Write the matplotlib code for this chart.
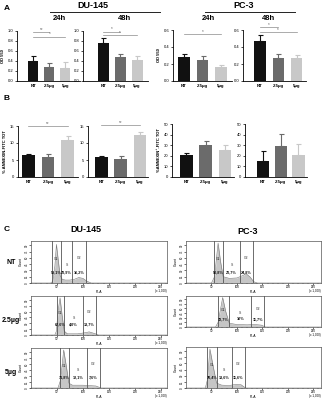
import numpy as np
import matplotlib
matplotlib.use("Agg")
import matplotlib.pyplot as plt

plt.rcParams['font.family'] = ['Liberation Sans', 'DejaVu Sans']

# ---------------- data ----------------
groups = ["NT", "2.5µg", "5µg"]
bar_colors = ["#111111", "#6b6b6b", "#c8c8c8"]

od_du145_24h = [0.41, 0.29, 0.26]
od_du145_24h_err = [0.09, 0.07, 0.12]
od_du145_48h = [0.76, 0.49, 0.43]
od_du145_48h_err = [0.10, 0.06, 0.08]
od_pc3_24h = [0.28, 0.245, 0.165]
od_pc3_24h_err = [0.04, 0.045, 0.025]
od_pc3_48h = [0.475, 0.275, 0.265]
od_pc3_48h_err = [0.07, 0.045, 0.04]

ann_du145 = [6.5, 6.0, 10.8]
ann_du145_err = [0.4, 0.8, 1.3]
ann_du145_b = [5.8, 5.4, 12.5]
ann_du145_b_err = [0.3, 0.9, 0.8]
ann_pc3 = [20.5, 30.5, 25.5]
ann_pc3_err = [1.8, 3.5, 4.8]
ann_pc3_b = [15.5, 29.5, 20.5]
ann_pc3_b_err = [9.5, 11.5, 11.0]

od_ticks = [0.0, 0.2, 0.4, 0.6, 0.8, 1.0]
od_ticks_pc3 = [0.0, 0.2, 0.4, 0.6]
ann_ticks = [0, 5, 10, 15]
ann_ticks_pc3 = [0, 10, 20, 30, 40, 50]

# cell-cycle histograms (PI-A x1000, counts)
du_nt_pi = [0, 38, 42, 46, 49, 52, 56, 60, 66, 75, 84, 92, 100, 108, 116, 262]
du_nt_cnt = [0, 0, 4, 40, 92, 60, 18, 9, 7, 7, 9, 13, 11, 4, 0, 0]
du_nt_gates = [40, 58, 79, 106]
du_nt_pct = ["59,1%", "20,9%", "16,2%"]

du_25_pi = [0, 46, 49, 52, 56, 60, 64, 70, 90, 105, 112, 122, 130, 262]
du_25_cnt = [0, 0, 10, 60, 95, 50, 10, 3, 3, 6, 8, 4, 0, 0]
du_25_gates = [49.5, 64, 100, 125]
du_25_pct = ["67,6%", "4,0%", "13,7%"]

du_5_pi = [0, 52, 57, 63, 68, 73, 80, 100, 112, 125, 135, 262]
du_5_cnt = [0, 0, 20, 95, 55, 12, 7, 7, 6, 5, 0, 0]
du_5_gates = [56, 73, 108, 133]
du_5_pct = ["71,8%", "12,1%", "7,6%"]

pc_nt_pi = [0, 50, 56, 63, 68, 73, 85, 100, 112, 118, 126, 133, 140, 265]
pc_nt_cnt = [0, 0, 15, 95, 50, 15, 11, 12, 18, 22, 14, 3, 0, 0]
pc_nt_gates = [55, 73, 106, 132]
pc_nt_pct = ["50,8%", "20,7%", "24,8%"]

pc_25_pi = [0, 58, 63, 72, 78, 85, 100, 120, 135, 148, 156, 265]
pc_25_cnt = [0, 0, 15, 95, 50, 12, 8, 7, 8, 6, 0, 0]
pc_25_gates = [62, 85, 128, 154]
pc_25_pct = ["72,7%", "10%", "11,7%"]

pc_5_pi = [0, 38, 42, 47, 53, 60, 70, 85, 98, 108, 117, 265]
pc_5_cnt = [0, 0, 20, 95, 55, 12, 7, 6, 9, 8, 0, 0]
pc_5_gates = [41, 60, 90, 115]
pc_5_pct = ["70,4%", "13,6%", "11,6%"]

gate_names = ["G1", "S", "G2"]
row_labels = ["NT", "2.5µg", "5µg"]

# ---------------- figure ----------------
W, H = 323, 400
fig = plt.figure(figsize=(W / 100, H / 100), dpi=100)


def px_axes(x0, y0, x1, y1):
    return fig.add_axes([x0 / W, 1 - y1 / H, (x1 - x0) / W, (y1 - y0) / H])


def ftext(x, y, s, **kw):
    fig.text(x / W, 1 - y / H, s, **kw)


def fline(x0, x1, y, **kw):
    fig.add_artist(plt.Line2D([x0 / W, x1 / W], [1 - y / H, 1 - y / H], **kw))


def bar_panel(box, xlim, vals, errs, ylim, yticks, ylabels, width, ylabel=None, sig=()):
    ax = px_axes(*box)
    pos = np.arange(len(groups))
    for p, v, e, c in zip(pos, vals, errs, bar_colors):
        ax.bar(p, v, width=width, color=c, zorder=2)
        ax.errorbar(p, v, yerr=[[0], [e]], fmt='none', ecolor=c, elinewidth=0.8,
                    capsize=1.8, capthick=0.8, zorder=1)
    ax.set_xlim(*xlim)
    ax.set_ylim(*ylim)
    ax.set_yticks(yticks)
    ax.set_yticklabels(ylabels)
    ax.set_xticks(pos)
    ax.set_xticklabels(groups, fontsize=3.2, fontweight='bold')
    for s in ['top', 'right']:
        ax.spines[s].set_visible(False)
    for s in ['left', 'bottom']:
        ax.spines[s].set_linewidth(0.6)
    ax.tick_params(axis='y', labelsize=3, length=1.5, width=0.5, pad=1)
    ax.tick_params(axis='x', length=0, pad=2.5)
    if ylabel:
        ax.set_ylabel(ylabel, fontsize=3, fontweight='bold', labelpad=2)
    for (i, j, y, star) in sig:
        ax.plot([i, j], [y, y], color='#8a8a8a', lw=0.5, clip_on=False)
        ax.text((i + j) / 2.0, y, star, ha='center', va='bottom', fontsize=3.3,
                color='#666666', clip_on=False)
    return ax


fmt1 = [f"{t:.1f}" for t in od_ticks]
fmt2 = [f"{t:.1f}" for t in od_ticks_pc3]

# ---- Panel A ----
ftext(4, 8, "A", fontsize=6, fontweight='bold', va='center')
ftext(93, 6, "DU-145", fontsize=6.5, fontweight='bold', ha='center', va='center')
fline(50, 160, 12, color='#222222', lw=0.7)
ftext(59, 18, "24h", fontsize=5.5, fontweight='bold', ha='center', va='center')
ftext(124, 18, "48h", fontsize=5.5, fontweight='bold', ha='center', va='center')
ftext(244, 6, "PC-3", fontsize=6.5, fontweight='bold', ha='center', va='center')
fline(205, 295, 12, color='#222222', lw=0.7)
ftext(208, 18, "24h", fontsize=5.5, fontweight='bold', ha='center', va='center')
ftext(269, 18, "48h", fontsize=5.5, fontweight='bold', ha='center', va='center')

bar_panel((17, 31, 80, 81), (-1.0, 2.9), od_du145_24h, od_du145_24h_err, (0, 1.0),
          od_ticks, fmt1, 0.62, ylabel="OD 550",
          sig=[(0, 1, 0.98, '**'), (0, 2, 0.89, '*')])
bar_panel((83, 31, 148, 81), (-1.2, 2.65), od_du145_48h, od_du145_48h_err, (0, 1.0),
          od_ticks, fmt1, 0.65,
          sig=[(0, 1, 0.99, '*'), (0, 2, 0.92, '*')])
bar_panel((173, 30, 232, 81), (-0.6, 2.6), od_pc3_24h, od_pc3_24h_err, (0, 0.6),
          od_ticks_pc3, fmt2, 0.62, ylabel="OD 550",
          sig=[(0, 2, 0.555, '*')])
bar_panel((243, 30, 306, 81), (-0.93, 2.52), od_pc3_48h, od_pc3_48h_err, (0, 0.6),
          od_ticks_pc3, fmt2, 0.62,
          sig=[(0, 1, 0.64, '*'), (0, 2, 0.575, '*')])

# ---- Panel B ----
ftext(4, 98, "B", fontsize=6, fontweight='bold', va='center')
bar_panel((18, 126, 78, 177), (-0.53, 2.52), ann_du145, ann_du145_err, (0, 15),
          ann_ticks, [str(t) for t in ann_ticks], 0.64, ylabel="% ANNEXIN-FITC TOT",
          sig=[(0, 2, 15.0, '**')])
bar_panel((88, 126, 148, 177), (-0.7, 2.42), ann_du145_b, ann_du145_b_err, (0, 15),
          ann_ticks, [str(t) for t in ann_ticks], 0.66,
          sig=[(0, 2, 15.2, '**')])
bar_panel((172, 124, 234, 177), (-0.75, 2.47), ann_pc3, ann_pc3_err, (0, 50),
          ann_ticks_pc3, [str(t) for t in ann_ticks_pc3], 0.66,
          ylabel="%ANNEXIN\u207a-FITC TOT")
bar_panel((245, 124, 307, 177), (-1.01, 2.48), ann_pc3_b, ann_pc3_b_err, (0, 50),
          ann_ticks_pc3, [str(t) for t in ann_ticks_pc3], 0.68)

# ---- Panel C ----
ftext(4, 230, "C", fontsize=6, fontweight='bold', va='center')
ftext(86, 230, "DU-145", fontsize=6.5, fontweight='bold', ha='center', va='center')
ftext(248, 231, "PC-3", fontsize=6.5, fontweight='bold', ha='center', va='center')

row_y = [262, 321, 372]
for lab, y in zip(row_labels, row_y):
    ftext(11, y, lab, fontsize=5, fontweight='bold', ha='center', va='center')


def hist_panel(box, xmax, pi, cnt, gates, pct):
    ax = px_axes(*box)
    ax.fill_between(pi, cnt, 0, color='#c6c6c6', lw=0)
    ax.plot(pi, cnt, color='#777777', lw=0.4)
    for g in gates:
        ax.axvline(g, color='#555555', lw=0.6)
    for k in range(3):
        mid = (gates[k] + gates[k + 1]) / 2.0
        ax.text(mid, [56, 44, 59][k], gate_names[k], fontsize=2.4, ha='center',
                va='center', color='#333333')
        ax.text(mid, 26, pct[k], fontsize=2.7, fontweight='bold', ha='center',
                va='center', color='#111111')
    ax.set_xlim(0, xmax)
    ax.set_ylim(0, 100)
    ax.set_xticks([50, 100, 150, 200, 250])
    ax.set_xticklabels(["50", "100", "150", "200", "250"])
    ax.set_xticks(np.arange(0, xmax, 10), minor=True)
    ax.set_yticks(np.arange(0, 91, 15))
    ax.tick_params(axis='both', labelsize=2.2, length=1.2, width=0.4, pad=0.5)
    ax.tick_params(axis='x', which='minor', length=0.8, width=0.3)
    for lbl in ax.get_yticklabels():
        lbl.set_rotation(90)
        lbl.set_va('center')
    for s in ax.spines.values():
        s.set_linewidth(0.5)
        s.set_color('#555555')
    ax.set_xlabel("PI-A", fontsize=2.4, labelpad=0.2)
    ax.set_ylabel("Count", fontsize=2.4, labelpad=1)
    ax.annotate("(x 1,000)", xy=(1.0, 0.0), xycoords='axes fraction',
                xytext=(0, -4.6), textcoords='offset points', fontsize=2.2,
                ha='right', va='top')
    return ax


hist_panel((31, 241, 167, 283), 262, du_nt_pi, du_nt_cnt, du_nt_gates, du_nt_pct)
hist_panel((31, 296, 167, 335), 262, du_25_pi, du_25_cnt, du_25_gates, du_25_pct)
hist_panel((31, 348, 167, 388), 262, du_5_pi, du_5_cnt, du_5_gates, du_5_pct)
hist_panel((186, 241, 321, 283), 265, pc_nt_pi, pc_nt_cnt, pc_nt_gates, pc_nt_pct)
hist_panel((186, 296, 321, 327), 265, pc_25_pi, pc_25_cnt, pc_25_gates, pc_25_pct)
hist_panel((186, 347, 321, 388), 265, pc_5_pi, pc_5_cnt, pc_5_gates, pc_5_pct)

fig.savefig("out.png", dpi=100, facecolor='white')
